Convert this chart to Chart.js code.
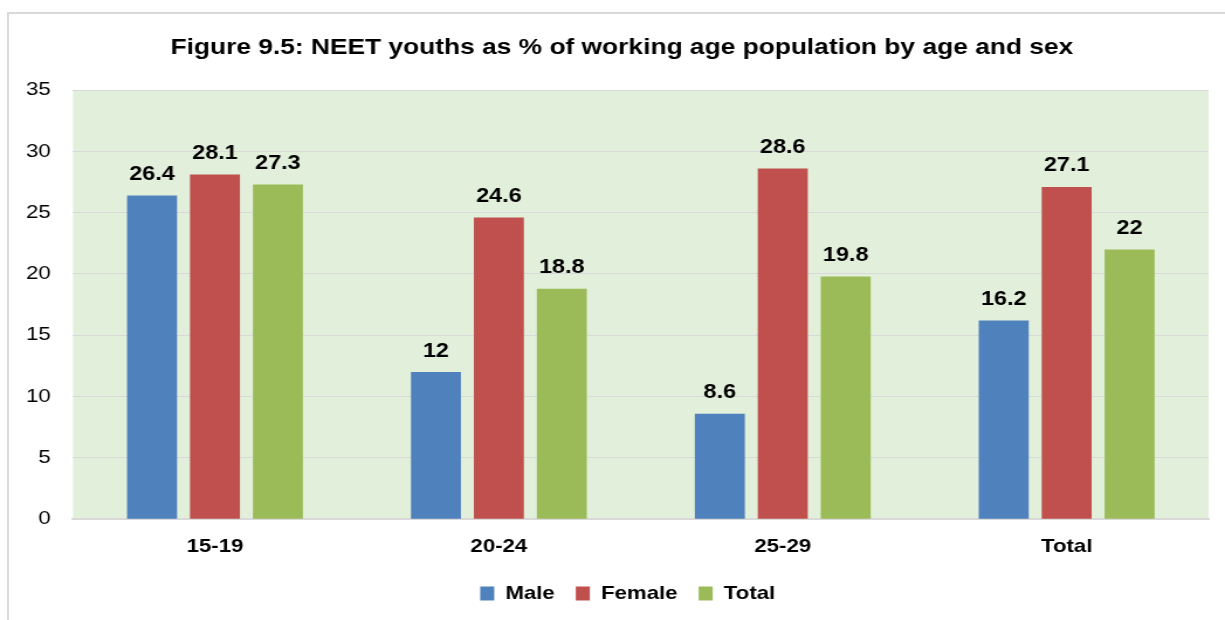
<!DOCTYPE html>
<html>
<head>
<meta charset="utf-8">
<script src="https://cdn.jsdelivr.net/npm/chart.js@4"></script>
<style>
  body { margin: 0; background: #fff; overflow: hidden; }
  #wrap { position: relative; width: 1225px; height: 620px; overflow: hidden; }
  #frame { position: absolute; left: 7px; top: 12px; width: 1240px; height: 640px; border: 2px solid #d9d9d9; box-sizing: border-box; }
  /* the source picture is stretched sideways, so draw narrower and widen */
  canvas { position: absolute; left: 0; top: 0; transform: scaleX(1.17); transform-origin: 0 0; }
</style>
</head>
<body>
<div id="wrap">
  <div id="frame"></div>
  <canvas id="chart" width="1047" height="620"></canvas>
</div>
<script>
const categories = ["15-19", "20-24", "25-29", "Total"];
const maleValues = [26.4, 12, 8.6, 16.2];
const femaleValues = [28.1, 24.6, 28.6, 27.1];
const totalValues = [27.3, 18.8, 19.8, 22];
const yTicks = [0, 5, 10, 15, 20, 25, 30, 35];
const titleText = "Figure 9.5: NEET youths as % of working age population by age and sex";

const FONT = "'Liberation Sans', Arial, sans-serif";

// green plot background
const plotBackground = {
  id: "plotBackground",
  beforeDraw(chart) {
    const { ctx, chartArea: a } = chart;
    ctx.save();
    ctx.fillStyle = "#e2efda";
    ctx.fillRect(a.left, a.top, a.right - a.left, a.bottom - a.top);
    ctx.restore();
  }
};

// title, a little right of the page centre like in the source
const chartTitle = {
  id: "chartTitle",
  afterDraw(chart) {
    const ctx = chart.ctx;
    ctx.save();
    ctx.font = "bold 22.5px " + FONT;
    ctx.fillStyle = "#000";
    ctx.textAlign = "center";
    ctx.textBaseline = "middle";
    ctx.fillText(titleText, chart.width / 2 + 8, 48);
    ctx.restore();
  }
};

// legend sits a bit right of centre too
const legendShift = {
  id: "legendShift",
  afterLayout(chart) {
    chart.legend.left += 20;
    chart.legend.right += 20;
  }
};

// value labels above bars
const barLabels = {
  id: "barLabels",
  afterDatasetsDraw(chart) {
    const ctx = chart.ctx;
    ctx.save();
    ctx.font = "bold 20px " + FONT;
    ctx.fillStyle = "#000";
    ctx.textAlign = "center";
    ctx.textBaseline = "middle";
    chart.data.datasets.forEach((ds, i) => {
      chart.getDatasetMeta(i).data.forEach((bar, j) => {
        ctx.fillText(String(ds.data[j]), bar.x, bar.y - 21);
      });
    });
    ctx.restore();
  }
};

new Chart(document.getElementById("chart"), {
  type: "bar",
  data: {
    labels: categories,
    datasets: [
      { label: "Male", data: maleValues, backgroundColor: "#4f81bd" },
      { label: "Female", data: femaleValues, backgroundColor: "#c0504d" },
      { label: "Total", data: totalValues, backgroundColor: "#9bbb59" }
    ]
  },
  options: {
    responsive: false,
    animation: false,
    datasets: { bar: { categoryPercentage: 0.665, barPercentage: 0.794 } },
    layout: { padding: { left: 0, right: 14, top: 90, bottom: 7 } },
    plugins: {
      title: { display: false },
      legend: {
        position: "bottom",
        labels: {
          color: "#000",
          font: { family: FONT, size: 19, weight: "bold" },
          boxWidth: 12,
          boxHeight: 14,
          padding: 18
        }
      },
      tooltip: { enabled: false }
    },
    scales: {
      x: {
        grid: { display: false },
        border: { display: true, color: "#d9d9d9", width: 2 },
        ticks: { color: "#000", font: { family: FONT, size: 19, weight: "bold" }, padding: 8 }
      },
      y: {
        min: 0,
        max: 35,
        afterFit(scale) { scale.width = 62.4; },
        afterBuildTicks(scale) { scale.ticks = yTicks.map(v => ({ value: v })); },
        grid: { color: "#d9d9d9", drawTicks: false },
        border: { display: false },
        ticks: { color: "#000", font: { family: FONT, size: 19 }, padding: 19 }
      }
    }
  },
  plugins: [plotBackground, barLabels, chartTitle, legendShift]
});
</script>
</body>
</html>
